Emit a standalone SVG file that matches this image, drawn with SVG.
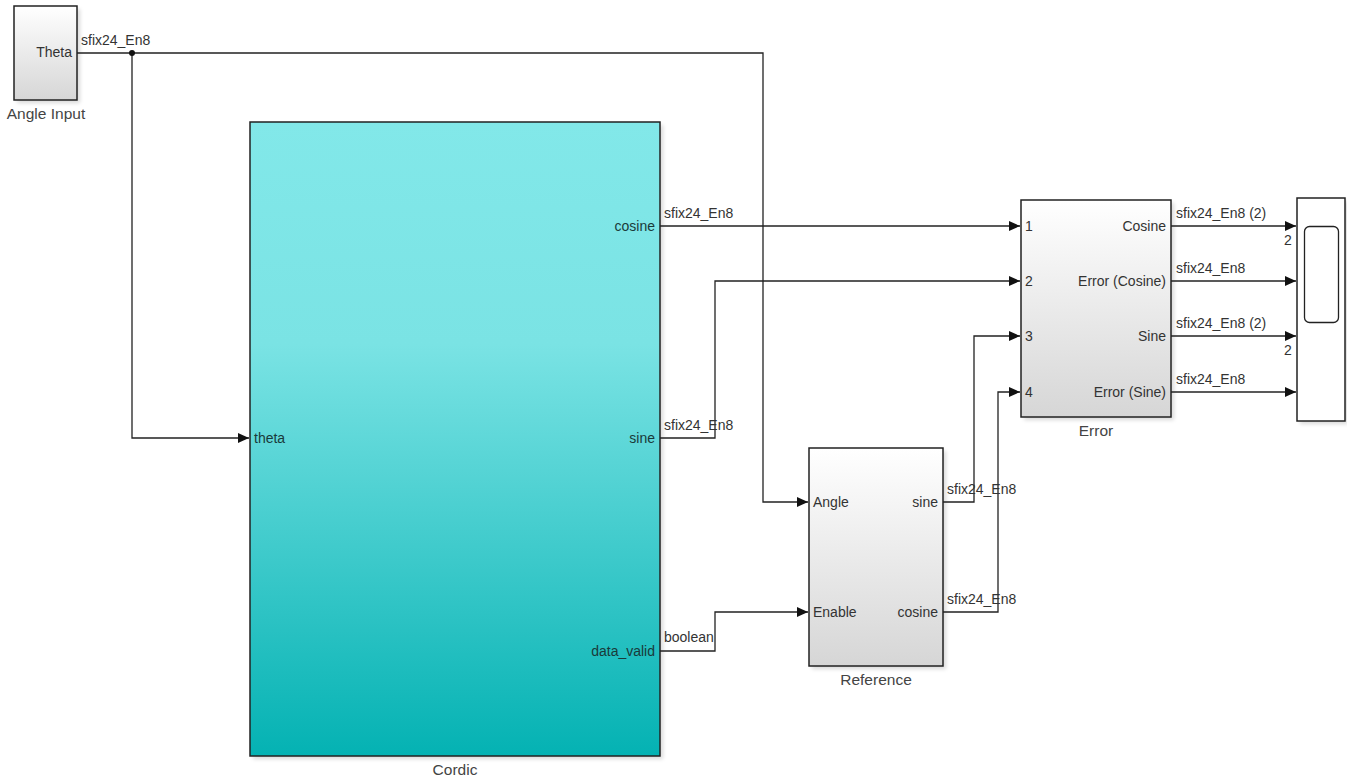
<svg xmlns="http://www.w3.org/2000/svg" width="1347" height="778" viewBox="0 0 1347 778">
<style>
text{font-family:"Liberation Sans",Arial,sans-serif;font-size:14px;fill:#333}
.name{font-size:15.5px;fill:#444}
.blk{stroke:#222;stroke-width:1.5}
.wire{fill:none;stroke:#222;stroke-width:1.3}
.lbl{fill:#333}
.cord{fill:#1a3a3a}
.shadow{fill:#000;opacity:0.15}
</style>
<defs>
<linearGradient id="gw" x1="0" y1="0" x2="0" y2="1">
<stop offset="0" stop-color="#ffffff"/>
<stop offset="1" stop-color="#d6d6d6"/>
</linearGradient>
<linearGradient id="gc" x1="0" y1="0" x2="0" y2="1">
<stop offset="0" stop-color="#82e8e9"/>
<stop offset="0.35" stop-color="#7ae3e4"/>
<stop offset="1" stop-color="#04b2b3"/>
</linearGradient>
<marker id="arr" markerWidth="12" markerHeight="10" refX="11" refY="5" orient="auto" markerUnits="userSpaceOnUse">
<path d="M0,0 L11,5 L0,10 Z" fill="#111"/>
</marker>
<filter id="sh" x="-10%" y="-10%" width="130%" height="130%">
<feGaussianBlur stdDeviation="2"/>
</filter>
</defs>

<g id="angle-input">
<rect x="17" y="9" width="63" height="94" class="shadow" filter="url(#sh)"/>
<rect x="14" y="6" width="63" height="94" fill="url(#gw)" class="blk"/>
<text x="72" y="57" text-anchor="end">Theta</text>
<text x="46" y="119" text-anchor="middle" class="name">Angle Input</text>
</g>

<g id="cordic">
<rect x="253" y="125" width="410" height="634" class="shadow" filter="url(#sh)"/>
<rect x="250" y="122" width="410" height="634" fill="url(#gc)" class="blk"/>
<text x="254" y="443" class="cord">theta</text>
<text x="655" y="231" text-anchor="end" class="cord">cosine</text>
<text x="655" y="443" text-anchor="end" class="cord">sine</text>
<text x="655" y="656" text-anchor="end" class="cord">data_valid</text>
<text x="455" y="775" text-anchor="middle" class="name">Cordic</text>
</g>

<g id="reference">
<rect x="812" y="451" width="134" height="218" class="shadow" filter="url(#sh)"/>
<rect x="809" y="448" width="134" height="218" fill="url(#gw)" class="blk"/>
<text x="813" y="507">Angle</text>
<text x="813" y="617">Enable</text>
<text x="938" y="507" text-anchor="end">sine</text>
<text x="938" y="617" text-anchor="end">cosine</text>
<text x="876" y="685" text-anchor="middle" class="name">Reference</text>
</g>

<g id="error">
<rect x="1024" y="203" width="150" height="217" class="shadow" filter="url(#sh)"/>
<rect x="1021" y="200" width="150" height="217" fill="url(#gw)" class="blk"/>
<text x="1025" y="231">1</text>
<text x="1025" y="286">2</text>
<text x="1025" y="341">3</text>
<text x="1025" y="397">4</text>
<text x="1166" y="231" text-anchor="end">Cosine</text>
<text x="1166" y="286" text-anchor="end">Error (Cosine)</text>
<text x="1166" y="341" text-anchor="end">Sine</text>
<text x="1166" y="397" text-anchor="end">Error (Sine)</text>
<text x="1096" y="436" text-anchor="middle" class="name">Error</text>
</g>

<g id="scope">
<rect x="1300" y="201" width="48" height="223" class="shadow" filter="url(#sh)"/>
<rect x="1297" y="198" width="48" height="223" fill="#ffffff" class="blk"/>
<rect x="1304.5" y="226.5" width="34" height="96" rx="5" fill="#ffffff" stroke="#222" stroke-width="1.3"/>
</g>

<g id="connectors">
<polyline class="wire" points="77,53 763,53 763,502 808,502" marker-end="url(#arr)"/>
<polyline class="wire" points="132,53 132,438 249,438" marker-end="url(#arr)"/>
<circle cx="132" cy="53" r="3" fill="#111"/>
<polyline class="wire" points="660,226 1020,226" marker-end="url(#arr)"/>
<polyline class="wire" points="660,438 715,438 715,281 1020,281" marker-end="url(#arr)"/>
<polyline class="wire" points="660,651 715,651 715,612 808,612" marker-end="url(#arr)"/>
<polyline class="wire" points="943,502 974,502 974,336 1020,336" marker-end="url(#arr)"/>
<polyline class="wire" points="943,612 998,612 998,392 1020,392" marker-end="url(#arr)"/>
<polyline class="wire" points="1171,226 1296,226" marker-end="url(#arr)"/>
<polyline class="wire" points="1171,281 1296,281" marker-end="url(#arr)"/>
<polyline class="wire" points="1171,336 1296,336" marker-end="url(#arr)"/>
<polyline class="wire" points="1171,392 1296,392" marker-end="url(#arr)"/>
<text x="81" y="45" class="lbl">sfix24_En8</text>
<text x="664" y="218" class="lbl">sfix24_En8</text>
<text x="664" y="430" class="lbl">sfix24_En8</text>
<text x="664" y="642" class="lbl">boolean</text>
<text x="947" y="494" class="lbl">sfix24_En8</text>
<text x="947" y="604" class="lbl">sfix24_En8</text>
<text x="1176" y="218" class="lbl">sfix24_En8 (2)</text>
<text x="1176" y="273" class="lbl">sfix24_En8</text>
<text x="1176" y="328" class="lbl">sfix24_En8 (2)</text>
<text x="1176" y="384" class="lbl">sfix24_En8</text>
<text x="1284" y="245" class="lbl">2</text>
<text x="1284" y="355" class="lbl">2</text>
</g>
</svg>
